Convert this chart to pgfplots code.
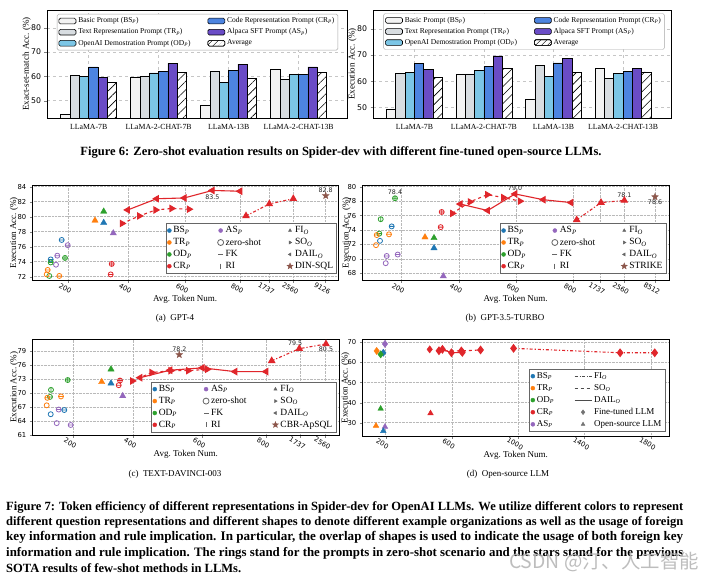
\documentclass[border=0pt]{standalone}
\usepackage{fontspec}
\setmainfont{Liberation Serif}
\newfontfamily\dejavu{DejaVu Sans}
\newfontfamily\cjk{Noto Sans CJK SC}
\usepackage{graphicx}
\usepackage{pgfplots}
\pgfplotsset{compat=1.18}
\usetikzlibrary{patterns.meta}

\definecolor{tblue}{HTML}{1F77B4}
\definecolor{torange}{HTML}{FF7F0E}
\definecolor{tgreen}{HTML}{2CA02C}
\definecolor{tred}{HTML}{E0262B}
\definecolor{tpurple}{HTML}{9467BD}
\definecolor{tbrown}{HTML}{8C564B}
\definecolor{barBS}{HTML}{F3F3F3}
\definecolor{barTR}{HTML}{D8DDE1}
\definecolor{barOD}{HTML}{7CC6E6}
\definecolor{barCR}{HTML}{4D84E0}
\definecolor{barAS}{HTML}{6A4CC6}

\pgfdeclareplotmark{ringh}{%
  \pgfpathcircle{\pgfpointorigin}{\pgfplotmarksize}%
  \pgfpathmoveto{\pgfpoint{-\pgfplotmarksize}{0pt}}%
  \pgfpathlineto{\pgfpoint{\pgfplotmarksize}{0pt}}%
  \pgfusepathqstroke}
\pgfdeclareplotmark{ringv}{%
  \pgfpathcircle{\pgfpointorigin}{\pgfplotmarksize}%
  \pgfpathmoveto{\pgfpoint{0pt}{-\pgfplotmarksize}}%
  \pgfpathlineto{\pgfpoint{0pt}{\pgfplotmarksize}}%
  \pgfusepathqstroke}
\pgfdeclareplotmark{ringp}{%
  \pgfpathcircle{\pgfpointorigin}{\pgfplotmarksize}%
  \pgfpathmoveto{\pgfpoint{-\pgfplotmarksize}{0pt}}%
  \pgfpathlineto{\pgfpoint{\pgfplotmarksize}{0pt}}%
  \pgfpathmoveto{\pgfpoint{0pt}{-\pgfplotmarksize}}%
  \pgfpathlineto{\pgfpoint{0pt}{\pgfplotmarksize}}%
  \pgfusepathqstroke}
\pgfdeclareplotmark{fstar}{%
  \pgfpathmoveto{\pgfpointpolar{90}{\pgfplotmarksize}}%
  \pgfpathlineto{\pgfpointpolar{126}{0.42\pgfplotmarksize}}%
  \pgfpathlineto{\pgfpointpolar{162}{\pgfplotmarksize}}%
  \pgfpathlineto{\pgfpointpolar{198}{0.42\pgfplotmarksize}}%
  \pgfpathlineto{\pgfpointpolar{234}{\pgfplotmarksize}}%
  \pgfpathlineto{\pgfpointpolar{270}{0.42\pgfplotmarksize}}%
  \pgfpathlineto{\pgfpointpolar{306}{\pgfplotmarksize}}%
  \pgfpathlineto{\pgfpointpolar{342}{0.42\pgfplotmarksize}}%
  \pgfpathlineto{\pgfpointpolar{18}{\pgfplotmarksize}}%
  \pgfpathlineto{\pgfpointpolar{54}{0.42\pgfplotmarksize}}%
  \pgfpathclose
  \pgfusepathqfillstroke}

\tikzset{lbl/.style={font=\dejavu\fontsize{6.3}{7}\selectfont, inner sep=1pt, text=black!85}}

\pgfplotsset{
  barax/.style={
    scale only axis, height=108pt,
    xmin=-0.595, xmax=3.69,
    xtick={0,1,2,3},
    xticklabels={LLaMA-7B,LLaMA-2-CHAT-7B,LLaMA-13B,LLaMA-2-CHAT-13B},
    ytick={50,60,70,80},
    axis line style={line width=0.9pt},
    tick align=outside, tick pos=left, major tick length=2.5pt,
    grid=major, grid style={dashed, gray!45, line width=0.5pt},
    yticklabel style={font=\dejavu\fontsize{7.8}{8}\selectfont},
    xticklabel style={font=\fontsize{7.8}{8}\selectfont},
    /pgf/number format/assume math mode=true,
    every axis y label/.style={at={(axis description cs:-0.068,0.5)}, rotate=90, anchor=center, font=\fontsize{9}{10}\selectfont},
    legend columns=2, legend cell align=left,
    legend style={font=\fontsize{7.5}{8.4}\selectfont, draw=black!35, rounded corners=1.5pt, inner sep=1.5pt, row sep=0.4pt, /tikz/every even column/.append style={column sep=15pt}},
  },
  bars/.style={ybar, bar width=9.3pt, draw=black, line width=0.6pt, forget plot},
  panel/.style={
    scale only axis, clip=false,
    axis line style={line width=0.9pt},
    tick align=outside, tick pos=left, major tick length=2.5pt,
    grid=major, grid style={densely dotted, gray!55, line width=0.5pt},
    tick label style={font=\dejavu\fontsize{6.8}{7}\selectfont},
    xticklabel style={rotate=-30, anchor=north},
    /pgf/number format/assume math mode=true,
    /pgf/number format/1000 sep={},
    every axis y label/.style={at={(axis description cs:-0.06,0.5)}, rotate=90, anchor=center, font=\fontsize{9}{10}\selectfont},
    every axis x label/.style={at={(axis description cs:0.5,-0.2)}, anchor=center, font=\fontsize{9}{10}\selectfont},
    xlabel={Avg.\ Token Num.}, ylabel={Execution Acc.\ (\%)},
    legend cell align=left,
    legend style={font=\fontsize{9.5}{10.5}\selectfont, draw=black!60, inner sep=1.5pt, row sep=0pt, /tikz/every even column/.append style={column sep=24pt}},
  },
  ring/.style={only marks, mark size=2.5pt, line width=0.8pt, forget plot},
  tri/.style={only marks, mark=triangle*, mark size=3.6pt, forget plot},
  redl/.style={tred, line width=1.1pt, mark=triangle*, mark size=3.4pt, forget plot},
}

\newcommand\panellegend[1]{%
  \addlegendimage{only marks, mark=*, tblue, mark size=2pt}\addlegendentry{BS\textsubscript{\itshape P}}
  \addlegendimage{only marks, mark=*, tpurple, mark size=2pt}\addlegendentry{AS\textsubscript{\itshape P}}
  \addlegendimage{only marks, mark=triangle*, black!60, mark size=1.8pt}\addlegendentry{FI\textsubscript{\itshape O}}
  \addlegendimage{only marks, mark=*, torange, mark size=2pt}\addlegendentry{TR\textsubscript{\itshape P}}
  \addlegendimage{only marks, mark=o, black!60, mark size=3pt, line width=0.8pt}\addlegendentry{zero-shot}
  \addlegendimage{only marks, mark=triangle*, mark options={rotate=-90}, black!60, mark size=1.8pt}\addlegendentry{SO\textsubscript{\itshape O}}
  \addlegendimage{only marks, mark=*, tgreen, mark size=2pt}\addlegendentry{OD\textsubscript{\itshape P}}
  \addlegendimage{only marks, mark=-, black!60, mark size=2.5pt, line width=1pt}\addlegendentry{FK}
  \addlegendimage{only marks, mark=triangle*, mark options={rotate=90}, black!60, mark size=1.8pt}\addlegendentry{DAIL\textsubscript{\itshape O}}
  \addlegendimage{only marks, mark=*, tred, mark size=2pt}\addlegendentry{CR\textsubscript{\itshape P}}
  \addlegendimage{only marks, mark=|, black!60, mark size=2.5pt, line width=1pt}\addlegendentry{RI}
  \addlegendimage{only marks, mark=fstar, tbrown, mark size=3.2pt}\addlegendentry{#1}
}

\newcommand\barlegend{%
  \addlegendimage{area legend, fill=barBS, draw=black, line width=0.6pt}\addlegendentry{Basic Prompt (BS\textsubscript{\itshape P})}
  \addlegendimage{area legend, fill=barCR, draw=black, line width=0.6pt}\addlegendentry{Code Representation Prompt (CR\textsubscript{\itshape P})}
  \addlegendimage{area legend, fill=barTR, draw=black, line width=0.6pt}\addlegendentry{Text Representation Prompt (TR\textsubscript{\itshape P})}
  \addlegendimage{area legend, fill=barAS, draw=black, line width=0.6pt}\addlegendentry{Alpaca SFT Prompt (AS\textsubscript{\itshape P})}
  \addlegendimage{area legend, fill=barOD, draw=black, line width=0.6pt}\addlegendentry{OpenAI Demostration Prompt (OD\textsubscript{\itshape P})}
  \addlegendimage{area legend, fill=white, draw=black, line width=0.6pt, postaction={pattern={Lines[angle=45,distance=4pt,line width=0.6pt]}}}\addlegendentry{Average}
}

\begin{document}
\begin{tikzpicture}
\useasboundingbox (0,0) rectangle (714pt,581pt);
\fill[white] (0,0) rectangle (714pt,581pt);

% ---------------- Figure 6 left: exact-set-match ----------------
\begin{axis}[barax, at={(47pt,463pt)}, anchor=south west, width=300pt,
  ymin=42.9, ymax=87.3, ylabel={Exact-set-match Acc.\ (\%)},
  legend style={at={(0.033,0.963)}, anchor=north west}]
\addplot[bars, fill=barBS, bar shift=-23.25pt] coordinates {(0,44.4)(1,59.7)(2,48.3)(3,62.9)};
\addplot[bars, fill=barTR, bar shift=-13.95pt] coordinates {(0,60.5)(1,60.0)(2,62.1)(3,58.8)};
\addplot[bars, fill=barOD, bar shift=-4.65pt] coordinates {(0,60.0)(1,61.4)(2,57.5)(3,60.8)};
\addplot[bars, fill=barCR, bar shift=4.65pt] coordinates {(0,63.9)(1,62.2)(2,62.6)(3,60.8)};
\addplot[bars, fill=barAS, bar shift=13.95pt] coordinates {(0,59.6)(1,65.4)(2,65.0)(3,63.9)};
\addplot[bars, fill=white, bar shift=23.25pt, postaction={pattern={Lines[angle=45,distance=6pt,line width=0.6pt]}}] coordinates {(0,57.5)(1,61.8)(2,59.2)(3,61.5)};
\barlegend
\end{axis}

% ---------------- Figure 6 right: execution ----------------
\begin{axis}[barax, at={(373pt,463pt)}, anchor=south west, width=298pt,
  ymin=45.9, ymax=87.3, ylabel={Execution Acc.\ (\%)},
  every axis y label/.style={at={(axis description cs:-0.069,0.5)}, rotate=90, anchor=center, font=\fontsize{9}{10}\selectfont},
  legend style={at={(0.035,0.969)}, anchor=north west}]
\addplot[bars, fill=barBS, bar shift=-23.25pt] coordinates {(0,49.2)(1,62.8)(2,53.0)(3,65.0)};
\addplot[bars, fill=barTR, bar shift=-13.95pt] coordinates {(0,63.0)(1,62.8)(2,66.0)(3,61.0)};
\addplot[bars, fill=barOD, bar shift=-4.65pt] coordinates {(0,63.3)(1,64.2)(2,61.7)(3,62.9)};
\addplot[bars, fill=barCR, bar shift=4.65pt] coordinates {(0,66.9)(1,65.7)(2,67.0)(3,63.8)};
\addplot[bars, fill=barAS, bar shift=13.95pt] coordinates {(0,64.6)(1,69.7)(2,68.6)(3,65.0)};
\addplot[bars, fill=white, bar shift=23.25pt, postaction={pattern={Lines[angle=45,distance=6pt,line width=0.6pt]}}] coordinates {(0,61.5)(1,65.0)(2,63.3)(3,63.6)};
\barlegend
\end{axis}

\node at (341pt,428.5pt) {\resizebox{521pt}{!}{\bfseries Figure 6: Zero-shot evaluation results on Spider-dev with different fine-tuned open-source LLMs.}};

% ---------------- (a) GPT-4 ----------------
\begin{axis}[panel, at={(32.3pt,300.5pt)}, anchor=south west, width=305.7pt, height=95.5pt,
  xmin=0, xmax=305.7, ymin=71.49, ymax=84.23, ytick={72,74,...,84},
  xtick={36,96,153,208,237,261,293}, xticklabels={200,400,600,800,1737,2560,9126},
  legend columns=3, legend style={at={(0.996,0.07)}, anchor=south east}]
\addplot[ring, tblue, mark=ringh] coordinates {(29.4,76.9)(18.4,74.3)};
\addplot[ring, tpurple, mark=ringh] coordinates {(35.4,76.2)(25,74.8)};
\addplot[ring, tpurple, mark=o] coordinates {(23.7,73.6)};
\addplot[ring, tgreen, mark=ringh] coordinates {(18.4,73.9)};
\addplot[ring, tgreen, mark=ringp] coordinates {(32.7,74.5)};
\addplot[ring, tgreen, mark=o] coordinates {(17,72.1)};
\addplot[ring, torange, mark=ringh] coordinates {(15.4,72.9)(27,72.1)};
\addplot[ring, torange, mark=o] coordinates {(14.4,72.3)};
\addplot[ring, tred, mark=ringp] coordinates {(79.4,73.7)};
\addplot[ring, tred, mark=ringh] coordinates {(78.4,72.3)};
\addplot[tri, torange] coordinates {(62.7,79.5)};
\addplot[tri, tgreen] coordinates {(71.4,80.7)};
\addplot[tri, tblue] coordinates {(71.4,79.2)};
\addplot[tri, tpurple] coordinates {(81,77.8)};
\addplot[redl, mark options={rotate=90}] coordinates {(95.4,80.9)(124.4,82.4)(152,82.5)(180,83.5)(207.7,83.4)};
\addplot[redl, dashed, mark options={rotate=-90, solid}] coordinates {(89.7,79.1)(107,80.1)(123.4,80.9)(139.4,81.1)(156.7,81.0)};
\addplot[redl, dash dot, mark options={solid}] coordinates {(213.7,80.1)(237,81.7)(261,82.4)};
\addplot[only marks, mark=fstar, mark size=3.5pt, tbrown, forget plot] coordinates {(293.4,82.8)};
\node[lbl, above=2pt] at (axis cs:293.4,82.8) {82.8};
\node[lbl, below=3pt] at (axis cs:180,83.5) {83.5};
\panellegend{DIN-SQL}
\end{axis}

% ---------------- (b) GPT-3.5-TURBO ----------------
\begin{axis}[panel, at={(362.3pt,300.5pt)}, anchor=south west, width=306.7pt, height=95.5pt,
  xmin=0, xmax=306.7, ymin=67.0, ymax=80.24, ytick={68,70,...,80},
  every axis y label/.style={at={(axis description cs:-0.052,0.5)}, rotate=90, anchor=center, font=\fontsize{9}{10}\selectfont},
  xtick={39,96.7,153.7,211,237.7,261.7,292.7}, xticklabels={200,400,600,800,1737,2560,8512},
  legend columns=3, legend style={at={(0.991,0.07)}, anchor=south east}]
\addplot[ring, tgreen, mark=ringp] coordinates {(32.7,78.4)};
\addplot[ring, tgreen, mark=ringv] coordinates {(18.4,75.5)};
\addplot[ring, tgreen, mark=ringh] coordinates {(17,73.5)};
\addplot[ring, tblue, mark=ringh] coordinates {(29.4,74.5)};
\addplot[ring, tblue, mark=o] coordinates {(17.7,72.5)};
\addplot[ring, torange, mark=ringh] coordinates {(14.4,73.3)(26.7,73.4)};
\addplot[ring, torange, mark=o] coordinates {(13.7,71.9)};
\addplot[ring, tpurple, mark=ringh] coordinates {(35.4,70.6)(24.4,70.4)};
\addplot[ring, tpurple, mark=o] coordinates {(23.4,69.4)};
\addplot[ring, tred, mark=ringp] coordinates {(79.4,76.5)};
\addplot[ring, tred, mark=ringh] coordinates {(78.4,74.4)};
\addplot[tri, torange] coordinates {(62.7,73.0)};
\addplot[tri, tgreen] coordinates {(71.7,72.9)};
\addplot[tri, tblue] coordinates {(71.7,71.5)};
\addplot[tri, tpurple] coordinates {(81,67.6)};
\addplot[redl, mark options={rotate=90}] coordinates {(98,77.6)(125.4,76.7)(152.7,79.0)(181,78.2)(208.7,77.8)};
\addplot[redl, dashed, mark options={rotate=-90, solid}] coordinates {(90,76.3)(107.7,77.9)(125,78.9)(141,78.5)(157.7,78.0)};
\addplot[redl, dash dot, mark options={solid}] coordinates {(214.4,75.4)(238.7,77.8)(262,78.1)};
\addplot[only marks, mark=fstar, mark size=3.5pt, tbrown, forget plot] coordinates {(292.7,78.6)};
\node[lbl, above=2pt] at (axis cs:32.7,78.4) {78.4};
\node[lbl, above=2pt] at (axis cs:152.7,79.0) {79.0};
\node[lbl, above=2pt] at (axis cs:262,78.1) {78.1};
\node[lbl, below=2pt] at (axis cs:292.7,78.6) {78.6};
\panellegend{STRIKE}
\end{axis}

\node[font=\fontsize{9}{10}\selectfont] at (175pt,262.7pt) {(a)\ \ GPT-4};
\node[font=\fontsize{9}{10}\selectfont] at (505pt,262.7pt) {(b)\ \ GPT-3.5-TURBO};

% ---------------- (c) TEXT-DAVINCI-003 ----------------
\begin{axis}[panel, at={(32.3pt,145.7pt)}, anchor=south west, width=307pt, height=96pt,
  xmin=0, xmax=307, ymin=61, ymax=81.5, ytick={61,64,...,79},
  every axis y label/.style={at={(axis description cs:-0.059,0.5)}, rotate=90, anchor=center, font=\fontsize{9}{10}\selectfont},
  xtick={41,101,170,234,268,293}, xticklabels={200,400,600,800,1737,2560},
  legend columns=3, legend style={at={(0.989,0.03)}, anchor=south east}]
\addplot[ring, tgreen, mark=ringp] coordinates {(35.4,72.8)};
\addplot[ring, tgreen, mark=ringv] coordinates {(18.7,70.7)};
\addplot[ring, tgreen, mark=ringh] coordinates {(17.7,69.2)};
\addplot[ring, torange, mark=ringh] coordinates {(15,69.0)(28.7,69.3)};
\addplot[ring, torange, mark=o] coordinates {(14.4,67.4)};
\addplot[ring, tpurple, mark=ringh] coordinates {(26.4,66.5)(38.4,63.2)};
\addplot[ring, tpurple, mark=o] coordinates {(24.4,63.6)};
\addplot[ring, tblue, mark=ringh] coordinates {(32,66.4)};
\addplot[ring, tblue, mark=o] coordinates {(18.4,65.5)};
\addplot[ring, tred, mark=ringp] coordinates {(87.7,72.7)};
\addplot[ring, tred, mark=ringh] coordinates {(86.4,71.7)};
\addplot[tri, torange] coordinates {(69.4,72.4)};
\addplot[tri, tgreen] coordinates {(78.7,75.1)};
\addplot[tri, tblue] coordinates {(78.7,72.1)};
\addplot[tri, tpurple] coordinates {(90.4,69.4)};
\addplot[redl, mark options={rotate=90}] coordinates {(107.7,73.3)(137.7,74.9)(170,75.4)(202.7,74.6)(233.7,74.6)};
\addplot[redl, dashed, mark options={rotate=-90, solid}] coordinates {(100,72.6)(119.4,74.4)(138.4,74.8)(156,74.8)(175,75.1)};
\addplot[redl, dash dot, mark options={solid}] coordinates {(239.4,76.9)(267,79.5)(293.7,80.5)};
\addplot[only marks, mark=fstar, mark size=3.5pt, tbrown, forget plot] coordinates {(147,78.2)};
\node[lbl, above=2pt] at (axis cs:147,78.2) {78.2};
\node[lbl, anchor=south east, xshift=4pt, yshift=2pt] at (axis cs:267,79.5) {79.5};
\node[lbl, below=2pt] at (axis cs:293.7,80.5) {80.5};
\panellegend{CBR-ApSQL}
\end{axis}

% ---------------- (d) Open-source LLM ----------------
\begin{axis}[panel, at={(362.3pt,145pt)}, anchor=south west, width=307pt, height=96.7pt,
  xmin=59.3, xmax=1912, ymin=23.4, ymax=71.5, ytick={30,40,...,70},
  every axis y label/.style={at={(axis description cs:-0.055,0.5)}, rotate=90, anchor=center, font=\fontsize{9}{10}\selectfont},
  xtick={200,600,1000,1400,1800},
  legend columns=2, legend style={font=\fontsize{9}{10}\selectfont, at={(0.986,0.044)}, anchor=south east, row sep=0.5pt, /tikz/every even column/.append style={column sep=18pt}}]
\addplot[only marks, mark=diamond*, mark size=3.6pt, tpurple, forget plot] coordinates {(196,69.2)};
\addplot[only marks, mark=diamond*, mark size=3.6pt, torange, forget plot] coordinates {(146,65.7)};
\addplot[only marks, mark=diamond*, mark size=3.6pt, tblue, forget plot] coordinates {(186,64.8)};
\addplot[only marks, mark=diamond*, mark size=3.6pt, tgreen, forget plot] coordinates {(170,64.0)};
\addplot[only marks, mark=triangle*, mark size=3.2pt, tgreen, forget plot] coordinates {(170,37.0)};
\addplot[only marks, mark=triangle*, mark size=3.2pt, torange, forget plot] coordinates {(142,28.5)};
\addplot[only marks, mark=triangle*, mark size=3.2pt, tpurple, forget plot] coordinates {(196,28.0)};
\addplot[only marks, mark=triangle*, mark size=3.2pt, tblue, forget plot] coordinates {(186,25.9)};
\addplot[only marks, mark=triangle*, mark size=3.2pt, tred, forget plot] coordinates {(471,34.7)};
\addplot[only marks, mark=diamond*, mark size=3.6pt, tred, forget plot] coordinates {(466,66.5)};
\addplot[tred, line width=1.1pt, mark=diamond*, mark size=3.6pt, forget plot] coordinates {(543,66.5)(597,64.8)(663,65.0)};
\addplot[tred, line width=1.1pt, dashed, mark=diamond*, mark size=3.6pt, mark options={solid}, forget plot] coordinates {(522,65.8)(657,65.7)(773,66.2)};
\addplot[tred, line width=1.1pt, dash dot, mark=diamond*, mark size=3.6pt, mark options={solid}, forget plot] coordinates {(972,67.0)(1615,64.8)(1824,64.8)};
\addlegendimage{only marks, mark=*, tblue, mark size=2pt}\addlegendentry{BS\textsubscript{\itshape P}}
\addlegendimage{black!70, dash dot, line width=1pt}\addlegendentry{FI\textsubscript{\itshape O}}
\addlegendimage{only marks, mark=*, torange, mark size=2pt}\addlegendentry{TR\textsubscript{\itshape P}}
\addlegendimage{black!70, dashed, line width=1pt}\addlegendentry{SO\textsubscript{\itshape O}}
\addlegendimage{only marks, mark=*, tgreen, mark size=2pt}\addlegendentry{OD\textsubscript{\itshape P}}
\addlegendimage{black!70, line width=1pt}\addlegendentry{DAIL\textsubscript{\itshape O}}
\addlegendimage{only marks, mark=*, tred, mark size=2pt}\addlegendentry{CR\textsubscript{\itshape P}}
\addlegendimage{only marks, mark=diamond*, black!55, mark size=2.4pt}\addlegendentry{Fine-tuned LLM}
\addlegendimage{only marks, mark=*, tpurple, mark size=2pt}\addlegendentry{AS\textsubscript{\itshape P}}
\addlegendimage{only marks, mark=triangle*, black!55, mark size=2.2pt}\addlegendentry{Open-source LLM}
\end{axis}

\node[font=\fontsize{9}{10}\selectfont] at (175pt,107pt) {(c)\ \ TEXT-DAVINCI-003};
\node[font=\fontsize{9}{10}\selectfont] at (508pt,107pt) {(d)\ \ Open-source LLM};

% ---------------- Figure 7 caption ----------------
\begin{scope}[every node/.style={anchor=west, inner sep=0pt, font=\bfseries\fontsize{11}{13}\selectfont}]
\node at (6pt,74pt) {\resizebox{677pt}{!}{Figure 7: Token efficiency of different representations in Spider-dev for OpenAI LLMs. We utilize different colors to represent}};
\node at (6pt,59pt) {\resizebox{677pt}{!}{different question representations and different shapes to denote different example organizations as well as the usage of foreign}};
\node at (6pt,43.5pt) {\resizebox{677pt}{!}{key information and rule implication. In particular, the overlap of shapes is used to indicate the usage of both foreign key}};
\node at (6pt,28pt) {\resizebox{677pt}{!}{information and rule implication. The rings stand for the prompts in zero-shot scenario and the stars stand for the previous}};
\node at (6pt,13pt) {\resizebox{235pt}{!}{SOTA results of few-shot methods in LLMs.}};
\end{scope}
\node[text=gray!60, opacity=0.85] at (604pt,19pt) {\resizebox{190pt}{!}{\cjk CSDN @汀、人工智能}};
\end{tikzpicture}
\end{document}
